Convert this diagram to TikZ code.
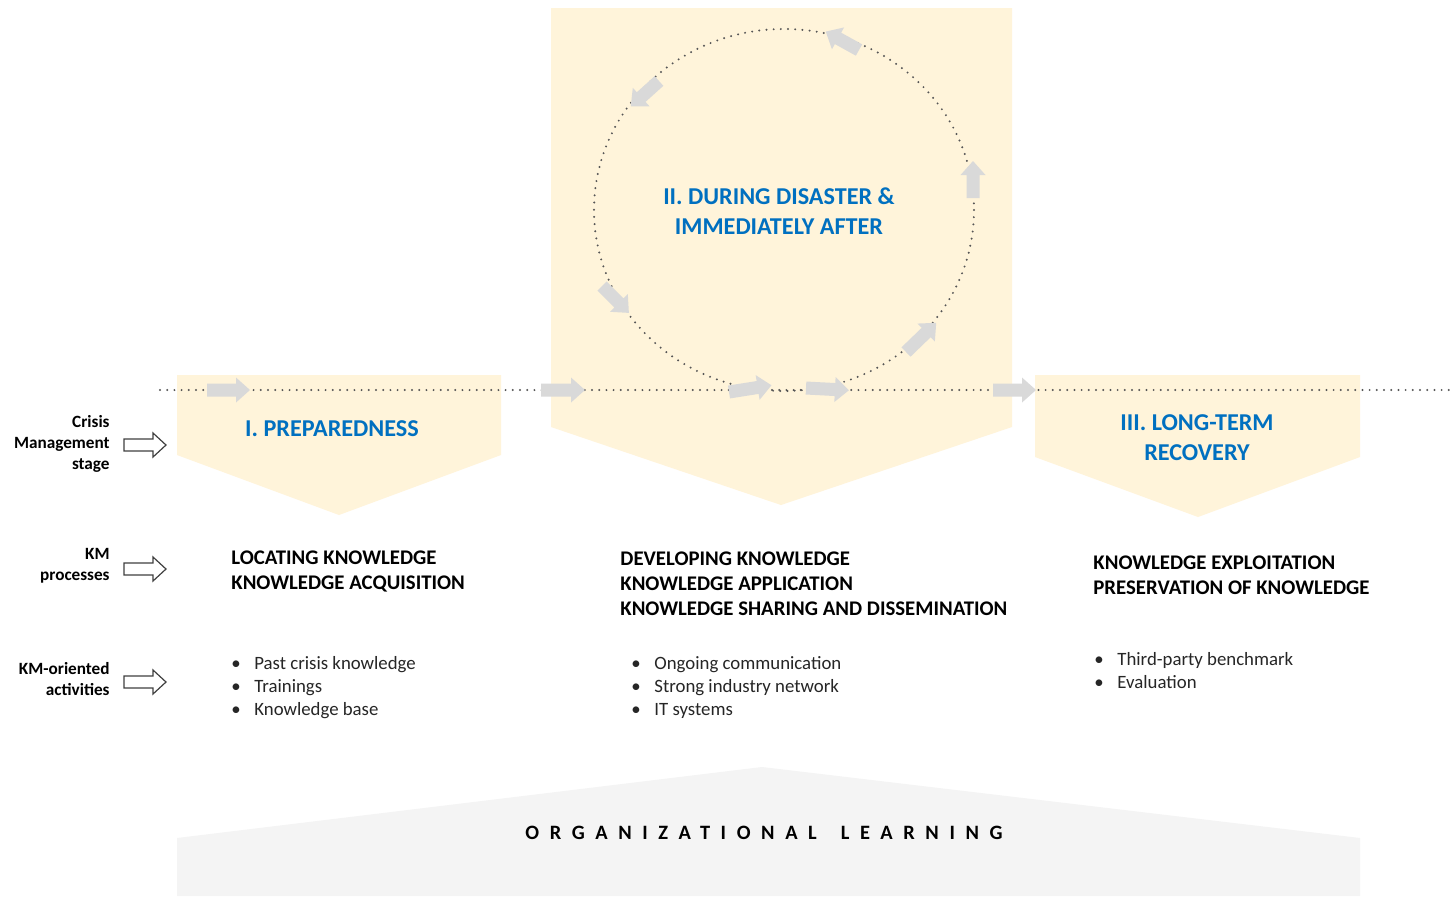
\documentclass[tikz,border=0pt]{standalone}
\usepackage{fontspec}
\setmainfont{Carlito}
\newfontfamily\spacedfont[LetterSpace=52]{Carlito}
\definecolor{stageyellow}{HTML}{FFF4DA}
\definecolor{greyband}{HTML}{F4F4F4}
\definecolor{arrowgrey}{HTML}{D9D9D9}
\definecolor{dotgrey}{HTML}{555555}
\definecolor{titleblue}{HTML}{0070C0}
\definecolor{outlinegrey}{HTML}{404040}
\definecolor{bulletgrey}{HTML}{262626}
\newcommand\bul{\makebox[11.5pt][l]{\textbullet}}
\tikzset{
  pics/barrow/.style={code={\fill[arrowgrey] (0,-6.5) -- (#1-14,-6.5) -- (#1-14,-12.5) -- (#1,0) -- (#1-14,12.5) -- (#1-14,6.5) -- (0,6.5) -- cycle;}},
  dotline/.style={draw=dotgrey, line width=1.1pt, dash pattern=on 0pt off 3.6pt, line cap=round},
  hollow/.style={draw=outlinegrey, line width=0.6pt, fill=white},
  stagetitle/.style={font=\bfseries\fontsize{12.1}{15}\selectfont, text=titleblue, align=center, inner sep=0pt},
  heading/.style={font=\bfseries\fontsize{10.4}{12.5}\selectfont, text=black, align=left, inner sep=0pt, anchor=north west},
  sidelabel/.style={font=\bfseries\fontsize{8.6}{10.5}\selectfont, text=black, align=right, inner sep=0pt, anchor=east},
  bullets/.style={font=\fontsize{9.4}{11.5}\selectfont, text=bulletgrey, align=left, inner sep=0pt, anchor=north west}
}
\begin{document}
\begin{tikzpicture}[x=0.5pt,y=-0.5pt]
\useasboundingbox[fill=white] (0,0) rectangle (1450,896);
% stage shapes
\fill[stageyellow] (177,375) -- (501,375) -- (501,455) -- (339,515) -- (177,455) -- cycle;
\fill[stageyellow] (551,8) -- (1012,8) -- (1012,427) -- (781,505) -- (551,427) -- cycle;
\fill[stageyellow] (1035,375) -- (1360,375) -- (1360,457) -- (1198,517) -- (1035,457) -- cycle;
% organizational learning band
\fill[greyband] (177,838) -- (762,767) -- (1360,838) -- (1360,896) -- (177,896) -- cycle;
% dotted line and cycle
\draw[dotline] (160,390) -- (1450,390);
\draw[dotline] (784,210) ellipse [x radius=190, y radius=181];
% block arrows on the line
\pic at (207,390) {barrow=43};
\pic at (541,390) {barrow=44};
\pic[rotate=9] at (729,392) {barrow=43};
\pic[rotate=-3] at (806,388) {barrow=43};
\pic at (993,390) {barrow=43};
% block arrows on the cycle
\pic[rotate=44] at (906,352) {barrow=42};
\pic[rotate=90] at (973,198) {barrow=37};
\pic[rotate=151] at (859,50) {barrow=38};
\pic[rotate=222] at (659,81) {barrow=38};
\pic[rotate=-45] at (602,286) {barrow=38};
% hollow arrows
\draw[hollow] (124,439) -- (153,439) -- (153,433) -- (166,445) -- (153,457) -- (153,451) -- (124,451) -- cycle;
\draw[hollow] (124,563) -- (153,563) -- (153,557) -- (166,569) -- (153,581) -- (153,575) -- (124,575) -- cycle;
\draw[hollow] (124,676) -- (153,676) -- (153,670) -- (166,682) -- (153,694) -- (153,688) -- (124,688) -- cycle;
% side labels
\node[sidelabel] (cms) at (110,444) {Crisis\\Management\\stage};
\node[sidelabel] (kmp) at (110,566) {KM\\processes};
\node[sidelabel] (kma) at (110,679) {KM-oriented\\activities};
% stage titles
\node[stagetitle] (prep) at (332,429) {I. PREPAREDNESS};
\node[stagetitle] (during) at (779,211) {II. DURING DISASTER \&\\IMMEDIATELY AFTER};
\node[stagetitle] (recov) at (1197,438) {III. LONG-TERM\\RECOVERY};
% KM processes
\node[heading] (proc1) at (231,550) {LOCATING KNOWLEDGE\\KNOWLEDGE ACQUISITION};
\node[heading] (proc2) at (620,551) {DEVELOPING KNOWLEDGE\\KNOWLEDGE APPLICATION\\KNOWLEDGE SHARING AND DISSEMINATION};
\node[heading] (proc3) at (1093,555) {KNOWLEDGE EXPLOITATION\\PRESERVATION OF KNOWLEDGE};
% activities
\node[bullets] (act1) at (231,656) {\bul Past crisis knowledge\\\bul Trainings\\\bul Knowledge base};
\node[bullets] (act2) at (631,656) {\bul Ongoing communication\\\bul Strong industry network\\\bul IT systems};
\node[bullets] (act3) at (1094,652) {\bul Third-party benchmark\\\bul Evaluation};
% organizational learning
\node[inner sep=0pt, font=\spacedfont\bfseries\fontsize{10.2}{12}\selectfont] (orgl) at (764,833) {ORGANIZATIONAL\hspace{12pt}LEARNING};
\end{tikzpicture}
\end{document}
